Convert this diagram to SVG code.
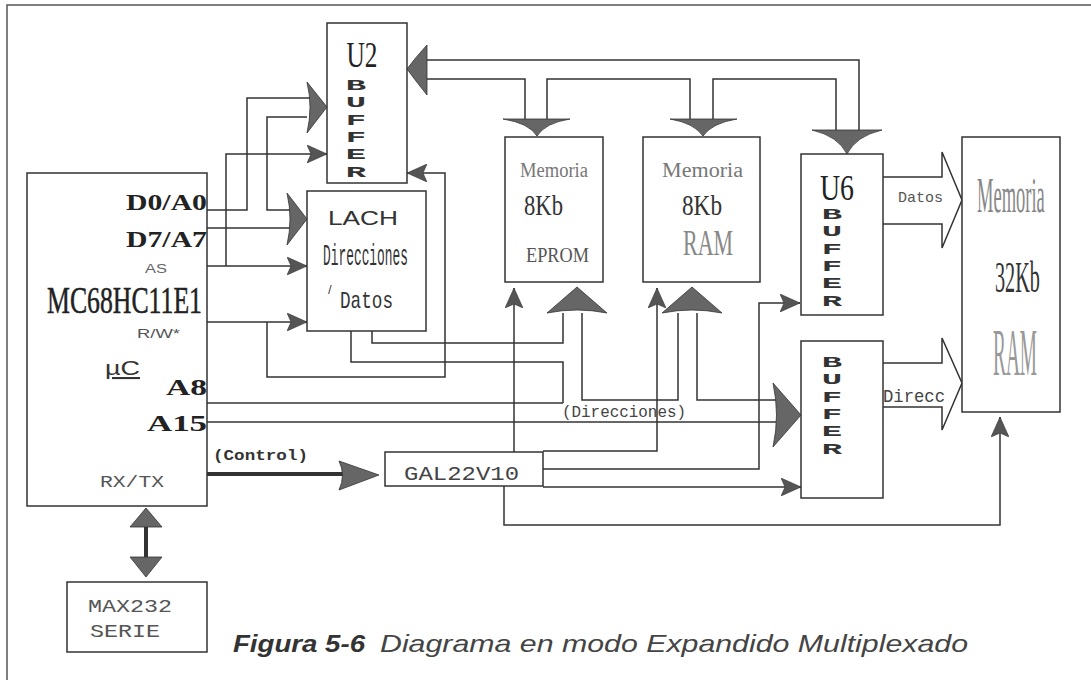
<svg xmlns="http://www.w3.org/2000/svg" width="1091" height="680" viewBox="0 0 1091 680">
<style>
.box{fill:#fff;stroke:#333;stroke-width:1.5}
.ln{fill:none;stroke:#333;stroke-width:1.5}
.thick{fill:none;stroke:#333;stroke-width:4}
.head{fill:#666;stroke:#333;stroke-width:0.8}
.hollow{fill:#fff;stroke:#333;stroke-width:1.5}
.serif{font-family:"Liberation Serif","Times New Roman",serif}
.sans{font-family:"Liberation Sans",Arial,sans-serif}
.mono{font-family:"Liberation Mono","Courier New",monospace}
.pin{font-family:"Liberation Serif",serif;font-weight:bold;font-size:24px;fill:#222}
.buf{font-family:"Liberation Mono","Courier New",monospace;font-weight:bold;font-size:17px;fill:#333;writing-mode:vertical-rl;text-orientation:upright}
</style>
<defs>
<marker id="arr" markerUnits="userSpaceOnUse" viewBox="0 -9 20 18" markerWidth="20" markerHeight="18" refX="20" refY="0" orient="auto">
<path d="M0,-9 L20,0 L0,9 L4,0 Z" fill="#555" stroke="#333" stroke-width="0.6"/>
</marker>
</defs>
<rect x="0" y="0" width="1091" height="680" fill="#fff"/>
<path d="M7,680 V5 H1091" fill="none" stroke="#555" stroke-width="1.5"/>

<g id="connectors">
<path class="ln" d="M207,210 H247 V98 H310"/>
<path class="ln" d="M307,117 H267 V210 H290"/>
<path class="ln" d="M207,228 H290"/>
<path class="ln" d="M207,266 H307" marker-end="url(#arr)"/>
<path class="ln" d="M226,266 V154 H327" marker-end="url(#arr)"/>
<path class="ln" d="M207,322 H307" marker-end="url(#arr)"/>
<path class="ln" d="M267,322 V377 H445 V173 H407" marker-end="url(#arr)"/>
<path class="ln" d="M372,331 V343 H563 V313"/>
<path class="ln" d="M351,331 V362 H563 V403"/>
<path class="ln" d="M207,403 H563"/>
<path class="ln" d="M207,422 H776"/>
<path class="ln" d="M582,313 V400 H678 V313"/>
<path class="ln" d="M697,313 V400 H776"/>
<path class="ln" d="M514,452 V288" marker-end="url(#arr)"/>
<path class="ln" d="M543,451 H657 V288" marker-end="url(#arr)"/>
<path class="ln" d="M543,469 H759 V303 H800" marker-end="url(#arr)"/>
<path class="ln" d="M543,487 H801" marker-end="url(#arr)"/>
<path class="ln" d="M504,486 V525 H1000 V417" marker-end="url(#arr)"/>
<path class="thick" d="M207,474 H345"/>
<path class="ln" d="M427,60 H859 V130"/>
<path class="ln" d="M427,79 H525 V119"/>
<path class="ln" d="M547,119 V79 H690 V119"/>
<path class="ln" d="M713,119 V79 H836 V130"/>
<path class="thick" d="M146,525 V559"/>
<path class="head" d="M307,82 L327,107 L307,133 Q313,107 307,82 Z"/>
<path class="head" d="M287,193 L307,219 L287,245 Q293,219 287,193 Z"/>
<path class="head" d="M773,383 L801,415 L773,447 Q780,415 773,383 Z"/>
<path class="head" d="M547,313 L577,287 L607,313 Q577,307 547,313 Z"/>
<path class="head" d="M662,313 L692,287 L722,313 Q692,307 662,313 Z"/>
<path class="head" d="M503,119 H570 Q545,123 537,136 Q529,123 503,119 Z"/>
<path class="head" d="M670,119 H737 Q712,123 703,136 Q694,123 670,119 Z"/>
<path class="head" d="M812,130 H882 Q856,136 847,154 Q838,136 812,130 Z"/>
<path class="head" d="M427,45 V95 Q415,80 407,69 Q415,58 427,45 Z"/>
<path class="head" d="M339,461 L379,475 L339,490 Q346,475 339,461 Z"/>
<path class="head" d="M130,527 L146,508 L162,527 Z"/>
<path class="head" d="M130,557 L146,577 L162,557 Z"/>
<path class="hollow" d="M883,177 H942 V152 L962,200 L942,248 V224 H883"/>
<path class="hollow" d="M883,363 H942 V338 L962,383 L942,430 V407 H883"/>
<text class="mono" x="213" y="460" font-size="14" font-weight="bold" fill="#333" textLength="95" lengthAdjust="spacingAndGlyphs">(Control)</text>
<text class="mono" x="562" y="417" font-size="16" fill="#444" textLength="124" lengthAdjust="spacingAndGlyphs">(Direcciones)</text>
<text class="mono" x="898" y="202" font-size="15" fill="#555" textLength="45" lengthAdjust="spacingAndGlyphs">Datos</text>
<text class="mono" x="883" y="402" font-size="18" fill="#444" textLength="62" lengthAdjust="spacingAndGlyphs">Direcc</text>
</g>

<g id="mc">
<rect class="box" x="27" y="173" width="180" height="333"/>
<text class="pin" x="126" y="210" textLength="81" lengthAdjust="spacingAndGlyphs">D0/A0</text>
<text class="pin" x="126" y="247" textLength="81" lengthAdjust="spacingAndGlyphs">D7/A7</text>
<text class="sans" x="145" y="273" font-size="13" fill="#666" textLength="22" lengthAdjust="spacingAndGlyphs">AS</text>
<text class="serif" x="47" y="313" font-size="38" fill="#222" stroke="#222" stroke-width="0.5" textLength="155" lengthAdjust="spacingAndGlyphs">MC68HC11E1</text>
<text class="sans" x="137" y="338" font-size="13" fill="#555" textLength="43" lengthAdjust="spacingAndGlyphs">R/W*</text>
<text class="sans" x="105" y="375" font-size="21" fill="#333" text-decoration="underline" textLength="35" lengthAdjust="spacingAndGlyphs">µC</text>
<text class="pin" x="166" y="395" textLength="41" lengthAdjust="spacingAndGlyphs">A8</text>
<text class="pin" x="147" y="431" textLength="60" lengthAdjust="spacingAndGlyphs">A15</text>
<text class="mono" x="100" y="487" font-size="17" fill="#555" textLength="64" lengthAdjust="spacingAndGlyphs">RX/TX</text>
</g>

<g id="max232">
<rect class="box" x="67" y="582" width="140" height="70"/>
<text class="mono" x="88" y="612" font-size="19" fill="#555" textLength="84" lengthAdjust="spacingAndGlyphs">MAX232</text>
<text class="mono" x="90" y="637" font-size="19" fill="#555" textLength="70" lengthAdjust="spacingAndGlyphs">SERIE</text>
</g>

<g id="u2">
<rect class="box" x="327" y="23" width="80" height="160"/>
<text class="serif" x="362" y="67" font-size="36" fill="#222" text-anchor="middle" textLength="31" lengthAdjust="spacingAndGlyphs">U2</text>
<text class="buf" transform="translate(356,77) scale(2,0.9)" x="0" y="0">BUFFER</text>
</g>

<g id="lach">
<rect class="box" x="307" y="191" width="119" height="140"/>
<text class="sans" x="328" y="225" font-size="21" fill="#333" textLength="70" lengthAdjust="spacingAndGlyphs">LACH</text>
<text class="mono" x="323" y="265" font-size="30" fill="#333" textLength="85" lengthAdjust="spacingAndGlyphs">Direcciones</text>
<text class="sans" x="328" y="294" font-size="13" fill="#444">/</text>
<text class="mono" x="340" y="308" font-size="24" fill="#333" textLength="53" lengthAdjust="spacingAndGlyphs">Datos</text>
</g>

<g id="eprom">
<rect class="box" x="505" y="137" width="98" height="145"/>
<text class="serif" x="520" y="177" font-size="20" fill="#777" textLength="68" lengthAdjust="spacingAndGlyphs">Memoria</text>
<text class="serif" x="524" y="215" font-size="30" fill="#333" textLength="39" lengthAdjust="spacingAndGlyphs">8Kb</text>
<text class="serif" x="526" y="262" font-size="22" fill="#555" textLength="63" lengthAdjust="spacingAndGlyphs">EPROM</text>
</g>

<g id="ram8">
<rect class="box" x="643" y="137" width="117" height="145"/>
<text class="serif" x="662" y="177" font-size="20" fill="#777" textLength="81" lengthAdjust="spacingAndGlyphs">Memoria</text>
<text class="serif" x="682" y="215" font-size="30" fill="#333" textLength="40" lengthAdjust="spacingAndGlyphs">8Kb</text>
<text class="serif" x="683" y="255" font-size="36" fill="#888" textLength="50" lengthAdjust="spacingAndGlyphs">RAM</text>
</g>

<g id="u6">
<rect class="box" x="801" y="154" width="82" height="161"/>
<text class="serif" x="837" y="200" font-size="36" fill="#222" text-anchor="middle" textLength="34" lengthAdjust="spacingAndGlyphs">U6</text>
<text class="buf" transform="translate(832,206) scale(2,0.9)" x="0" y="0">BUFFER</text>
</g>

<g id="buffer">
<rect class="box" x="801" y="341" width="82" height="157"/>
<text class="buf" transform="translate(832,354) scale(2,0.9)" x="0" y="0">BUFFER</text>
</g>

<g id="ram32">
<rect class="box" x="962" y="137" width="98" height="275"/>
<text class="serif" transform="translate(977,212) scale(0.37,1)" x="0" y="0" font-size="50" fill="#888">Memoria</text>
<text class="serif" transform="translate(995,292) scale(0.46,1)" x="0" y="0" font-size="44" fill="#333">32Kb</text>
<text class="serif" transform="translate(993,375) scale(0.284,1)" x="0" y="0" font-size="68" fill="#999">RAM</text>
</g>

<g id="gal">
<rect class="box" x="385" y="452" width="158" height="34"/>
<text class="mono" x="404" y="480" font-size="20" fill="#444" textLength="115" lengthAdjust="spacingAndGlyphs">GAL22V10</text>
</g>

<g id="caption">
<text class="sans" x="233" y="652" font-size="24" font-weight="bold" font-style="italic" fill="#333" textLength="132" lengthAdjust="spacingAndGlyphs">Figura 5-6</text>
<text class="sans" x="380" y="652" font-size="24" font-style="italic" fill="#444" textLength="588" lengthAdjust="spacingAndGlyphs">Diagrama en modo Expandido Multiplexado</text>
</g>
</svg>
